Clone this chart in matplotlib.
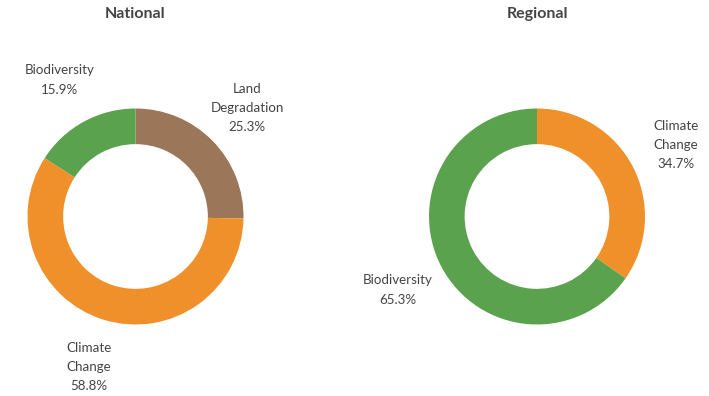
import matplotlib.pyplot as plt

# data
national_labels = ["Land\nDegradation", "Climate\nChange", "Biodiversity"]
national_values = [25.3, 58.8, 15.9]
regional_labels = ["Climate\nChange", "Biodiversity"]
regional_values = [34.7, 65.3]

colors = {"Land\nDegradation": "#9B7659", "Climate\nChange": "#F0902A",
          "Biodiversity": "#5BA24F"}
text_color = "#444444"

W, H = 709, 396
fig = plt.figure(figsize=(W / 100, H / 100), dpi=100)
ax = fig.add_axes([0, 0, 1, 1])
ax.axis("off")

R = 108
ring = 0.33


def donut(values, labels, cx, cy, label_pos, title):
    ax.pie(values, colors=[colors[l] for l in labels], startangle=90,
           counterclock=False, center=(cx, H - cy), radius=R,
           wedgeprops=dict(width=R * ring, linewidth=0))
    for lab, val, (lx, ly) in zip(labels, values, label_pos):
        ax.text(lx, H - ly, f"{lab}\n{val:.1f}%", ha="center", va="center",
                fontsize=9.6, color=text_color, linespacing=1.72,
                family="Lato")
    ax.text(cx, H - 14, title, ha="center", va="center", fontsize=11.5,
            fontweight="bold", color=text_color, family="Lato")


donut(national_values, national_labels, 135.5, 216.5,
      [(247, 108), (89, 367), (60, 80)], "National")
donut(regional_values, regional_labels, 537, 216.5,
      [(676, 145), (398, 290)], "Regional")

ax.set_xlim(0, W)
ax.set_ylim(0, H)
ax.set_aspect("auto")

fig.savefig("out.png", dpi=100)
